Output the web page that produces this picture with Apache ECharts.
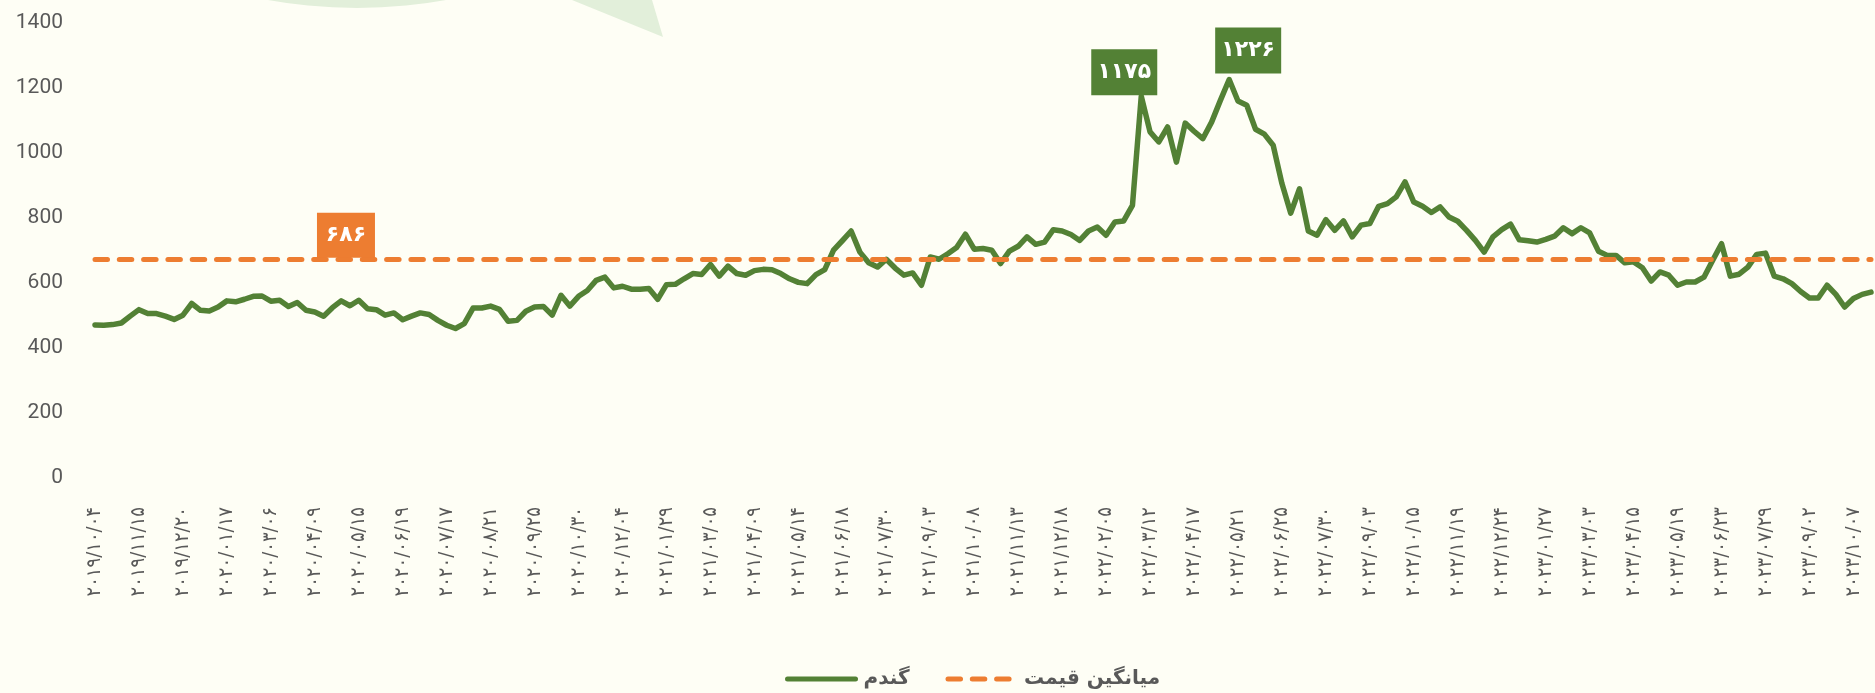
<!DOCTYPE html>
<html lang="fa">
<head>
<meta charset="utf-8">
<title>قیمت گندم</title>
<script src="https://cdn.jsdelivr.net/npm/echarts@6/dist/echarts.min.js"></script>
<style>
    html, body { margin: 0; padding: 0; background: #fefef5; }
    #chart { width: 1875px; height: 693px; }
</style>
</head>
<body>
<div id="chart"></div>
<script>
// برچسب‌های محور افقی (هر پنج نقطه یک برچسب)
const tickLabels = [
    '۲۰۱۹/۱۰/۰۴', '۲۰۱۹/۱۱/۱۵', '۲۰۱۹/۱۲/۲۰', '۲۰۲۰/۰۱/۱۷', '۲۰۲۰/۰۳/۰۶', '۲۰۲۰/۰۴/۰۹',
    '۲۰۲۰/۰۵/۱۵', '۲۰۲۰/۰۶/۱۹', '۲۰۲۰/۰۷/۱۷', '۲۰۲۰/۰۸/۲۱', '۲۰۲۰/۰۹/۲۵', '۲۰۲۰/۱۰/۳۰',
    '۲۰۲۰/۱۲/۰۴', '۲۰۲۱/۰۱/۲۹', '۲۰۲۱/۰۳/۰۵', '۲۰۲۱/۰۴/۰۹', '۲۰۲۱/۰۵/۱۴', '۲۰۲۱/۰۶/۱۸',
    '۲۰۲۱/۰۷/۳۰', '۲۰۲۱/۰۹/۰۳', '۲۰۲۱/۱۰/۰۸', '۲۰۲۱/۱۱/۱۳', '۲۰۲۱/۱۲/۱۸', '۲۰۲۲/۰۲/۰۵',
    '۲۰۲۲/۰۳/۱۲', '۲۰۲۲/۰۴/۱۷', '۲۰۲۲/۰۵/۲۱', '۲۰۲۲/۰۶/۲۵', '۲۰۲۲/۰۷/۳۰', '۲۰۲۲/۰۹/۰۳',
    '۲۰۲۲/۱۰/۱۵', '۲۰۲۲/۱۱/۱۹', '۲۰۲۲/۱۲/۲۴', '۲۰۲۳/۰۱/۲۷', '۲۰۲۳/۰۳/۰۳', '۲۰۲۳/۰۴/۱۵',
    '۲۰۲۳/۰۵/۱۹', '۲۰۲۳/۰۶/۲۳', '۲۰۲۳/۰۷/۲۹', '۲۰۲۳/۰۹/۰۲', '۲۰۲۳/۱۰/۰۷'
];
const labelStep = 5;

// قیمت گندم
const wheat = [
    471, 470, 472, 477, 498, 518, 506, 506, 498, 488,
    501, 537, 516, 514, 526, 545, 542, 550, 559, 560,
    544, 547, 528, 540, 516, 511, 498, 524, 545, 530,
    547, 521, 518, 501, 508, 487, 498, 508, 503, 485,
    470, 460, 475, 523, 523, 529, 519, 482, 485, 513,
    526, 528, 501, 562, 529, 559, 577, 608, 618, 585,
    590, 581, 581, 583, 550, 595, 596, 613, 629, 626,
    657, 621, 652, 629, 624, 638, 642, 641, 629, 613,
    602, 598, 626, 641, 701, 730, 760, 695, 662, 649,
    673, 646, 624, 631, 593, 680, 673, 690, 709, 750,
    704, 706, 701, 660, 698, 713, 742, 719, 726, 764,
    760, 749, 731, 760, 772, 747, 788, 791, 839, 1175,
    1065, 1034, 1080, 972, 1092, 1067, 1044, 1095, 1162, 1226,
    1160, 1147, 1073, 1058, 1024, 906, 815, 890, 760, 747,
    795, 762, 791, 742, 778, 783, 836, 844, 865, 911,
    849, 836, 817, 834, 803, 790, 762, 731, 695, 742,
    764, 781, 733, 730, 726, 734, 744, 770, 752, 770,
    754, 698, 685, 685, 662, 665, 647, 606, 634, 624,
    593, 603, 603, 618, 670, 721, 621, 627, 649, 688,
    692, 621, 613, 598, 574, 554, 554, 593, 565, 526,
    552, 565, 572
];

// میانگین قیمت: مکان خط و عدد نوشته شده روی آن
const avgLine = 673;
const avgLabel = 686;
const avgLabelAt = 29;
const peakIdx = [119, 129];

const GREEN = '#538135';
const ORANGE = '#ed7d31';
const TEXT = '#595959';
const FA_FONT = '"DejaVu Sans", "Noto Sans", sans-serif';
const DASH = [12.5, 11.8];

const toFa = n => String(n).replace(/\d/g, d => '۰۱۲۳۴۵۶۷۸۹'[d]);

const categories = wheat.map((_, i) => (i % labelStep === 0 ? tickLabels[i / labelStep] : ''));

const boxLabel = {
    show: true,
    position: 'inside',
    color: '#ffffff',
    fontFamily: FA_FONT,
    fontWeight: 'bold',
    fontSize: 22,
    formatter: p => toFa(p.value)
};

const chart = echarts.init(document.getElementById('chart'));
chart.setOption({
    backgroundColor: '#fefef5',
    animation: false,
    graphic: [
        { type: 'circle', z: -10, shape: { cx: 357, cy: -492, r: 500 }, style: { fill: '#e2efda' } },
        { type: 'polygon', z: -10, shape: { points: [[572, 0], [652, 0], [663, 37]] }, style: { fill: '#e2efda' } }
    ],
    grid: { left: 95, right: 4, top: 23, bottom: 215 },
    legend: {
        left: 780,
        top: 664,
        itemWidth: 68,
        itemHeight: 14,
        itemGap: 36,
        data: ['گندم', 'میانگین قیمت'],
        itemStyle: { opacity: 0 },
        lineStyle: { width: 5 },
        textStyle: { color: TEXT, fontFamily: FA_FONT, fontWeight: 'bold', fontSize: 20, padding: [0, 0, 0, 3] }
    },
    xAxis: {
        type: 'category',
        boundaryGap: false,
        data: categories,
        axisLine: { show: false },
        axisTick: { show: false },
        axisLabel: {
            interval: 0, rotate: 90, margin: 29, color: TEXT, fontSize: 20,
            fontFamily: '"DejaVu Sans Condensed", "DejaVu Sans", sans-serif'
        }
    },
    yAxis: {
        type: 'value',
        min: 0,
        max: 1400,
        interval: 200,
        splitLine: { show: false },
        axisLine: { show: false },
        axisTick: { show: false },
        axisLabel: { margin: 32, color: TEXT, fontFamily: 'Roboto, sans-serif', fontSize: 21, formatter: v => String(v) }
    },
    series: [
        {
            name: 'گندم',
            type: 'line',
            data: wheat,
            symbol: 'none',
            z: 3,
            lineStyle: { color: GREEN, width: 5.5, join: 'round', cap: 'round' },
            itemStyle: { color: GREEN },
            markPoint: {
                symbol: 'rect',
                symbolSize: [66, 46],
                itemStyle: { color: GREEN },
                label: boxLabel,
                data: [
                    { coord: [peakIdx[0], wheat[peakIdx[0]]], value: wheat[peakIdx[0]], symbolOffset: [-17, -24] },
                    { coord: [peakIdx[1], wheat[peakIdx[1]]], value: wheat[peakIdx[1]], symbolOffset: [19, -29] }
                ]
            }
        },
        {
            name: 'میانگین قیمت',
            type: 'line',
            data: [],
            symbol: 'none',
            z: 2,
            lineStyle: { color: ORANGE, width: 5, type: DASH, cap: 'round' },
            itemStyle: { color: ORANGE },
            markLine: {
                silent: true,
                symbol: 'none',
                label: { show: false },
                lineStyle: { color: ORANGE, width: 5, type: DASH, cap: 'round' },
                data: [{ yAxis: avgLine }]
            },
            markPoint: {
                symbol: 'rect',
                symbolSize: [58, 45],
                itemStyle: { color: ORANGE },
                label: boxLabel,
                data: [{ coord: [avgLabelAt, avgLine], value: avgLabel, symbolOffset: [-4, -24] }]
            }
        }
    ]
});
</script>
</body>
</html>
